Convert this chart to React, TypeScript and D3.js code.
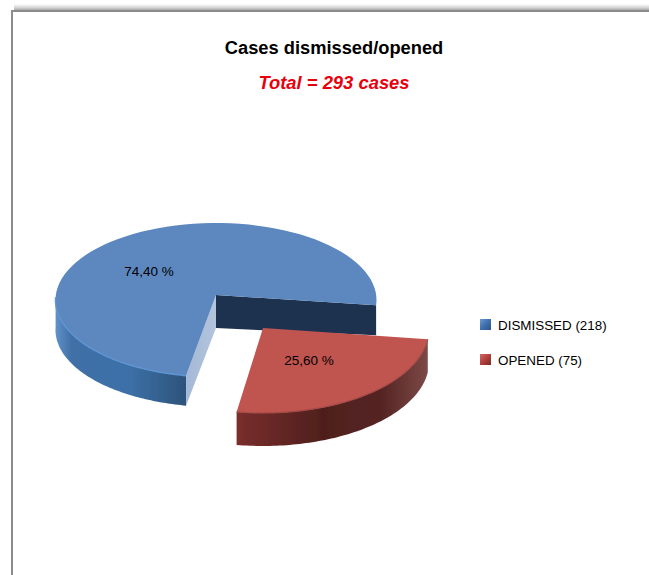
import React from "react";
import * as d3 from "d3";

const categories = ["DISMISSED", "OPENED"];
const values = [218, 75];
const total = 293;

const W = 649;
const H = 575;
const FONT = "'Liberation Sans', Arial, sans-serif";
const rad = Math.PI / 180;
const START = 97 * rad; // clockwise from 12 o'clock, opened slice begins here

// each wedge has its own ellipse (perspective view, opened slice is exploded)
const geo = [
  { ax: 216, ay: 295, rx: 160.5, ry: 77, off: 5, depth: 30, adjS: 1.6, adjE: -3 },
  { ax: 263, ay: 328, rx: 166, ry: 84, off: 1, depth: 33, adjS: 0, adjE: 0 },
];

type G = (typeof geo)[number];
const pt = (g: G, t: number): [number, number] => [
  g.ax + g.rx * Math.sin(t),
  g.ay + g.off - g.ry * Math.cos(t),
];
const rim = (g: G, a: number, b: number) =>
  d3.range(0, 81).map((i) => pt(g, a + ((b - a) * i) / 80));
const line = d3.line();
const shift = (p: [number, number][], d: number) =>
  p.map(([x, y]) => [x, y + d] as [number, number]);

export default function App() {
  const pie = d3
    .pie<number>()
    .sort(null)
    .startAngle(START)
    .endAngle(START + 2 * Math.PI);
  // the opened slice starts at START, dismissed follows it
  const arcs = pie([values[1], values[0]]);
  const redA = arcs[0];
  const blueA = arcs[1];
  const B = geo[0];
  const R = geo[1];
  const bS = blueA.startAngle + B.adjS * rad;
  const bE = blueA.endAngle + B.adjE * rad;

  const blueRim = rim(B, bS, bE);
  const blueTop = line([[B.ax, B.ay], ...blueRim])! + "Z";
  const blueFront = rim(B, bS, 272 * rad);
  const blueWall =
    line([...blueFront, ...shift(blueFront, B.depth).reverse()])! + "Z";
  const bStartPt = pt(B, bS);
  const bEndPt = pt(B, bE);
  const apexB: [number, number] = [B.ax, B.ay];
  const leftCut =
    line([apexB, bStartPt, [bStartPt[0], bStartPt[1] + B.depth], [B.ax, B.ay + 33]])! + "Z";
  const rightCut =
    line([apexB, bEndPt, [bEndPt[0], bEndPt[1] + B.depth], [B.ax, B.ay + 33]])! + "Z";

  const redRim = rim(R, redA.startAngle, redA.endAngle);
  const redTop = line([[R.ax, R.ay], ...redRim])! + "Z";
  const redWall = line([...redRim, ...shift(redRim, R.depth).reverse()])! + "Z";

  const pct = (v: number) =>
    ((v / total) * 100).toFixed(2).replace(".", ",") + " %";

  return (
    <svg
      width={W}
      height={H}
      viewBox={`0 0 ${W} ${H}`}
      style={{ position: "absolute", left: 0, top: 0, background: "#fff" }}
    >
      <defs>
        <linearGradient id="shadowTop" x1="0" x2="0" y1="0" y2="1">
          <stop offset="0" stopColor="#ffffff" />
          <stop offset="0.5" stopColor="#cfcfcf" />
          <stop offset="1" stopColor="#7f7f7f" />
        </linearGradient>
        <linearGradient id="blueWall" gradientUnits="userSpaceOnUse" x1="56" x2="188" y1="0" y2="0">
          <stop offset="0" stopColor="#6090c8" />
          <stop offset="0.12" stopColor="#3f6fa6" />
          <stop offset="0.55" stopColor="#3d70a8" />
          <stop offset="0.8" stopColor="#33608e" />
          <stop offset="1" stopColor="#2d5179" />
        </linearGradient>
        <linearGradient id="redWall" gradientUnits="userSpaceOnUse" x1="236" x2="429" y1="0" y2="0">
          <stop offset="0" stopColor="#7a2e2c" />
          <stop offset="0.45" stopColor="#4f1f1d" />
          <stop offset="0.75" stopColor="#552423" />
          <stop offset="1" stopColor="#7d4a48" />
        </linearGradient>
        <linearGradient id="sideLight" gradientUnits="userSpaceOnUse" x1="186" x2="216" y1="0" y2="0">
          <stop offset="0" stopColor="#a4b9d6" />
          <stop offset="1" stopColor="#b3c4dc" />
        </linearGradient>
        <linearGradient id="swB" x1="0" x2="1" y1="0" y2="1">
          <stop offset="0" stopColor="#6f9ad0" />
          <stop offset="0.5" stopColor="#3d70ad" />
          <stop offset="1" stopColor="#2c5485" />
        </linearGradient>
        <linearGradient id="swR" x1="0" x2="1" y1="0" y2="1">
          <stop offset="0" stopColor="#d06a66" />
          <stop offset="0.5" stopColor="#b13f3c" />
          <stop offset="1" stopColor="#7a2a28" />
        </linearGradient>
        <filter id="soft" x="-5%" y="-5%" width="110%" height="110%">
          <feGaussianBlur stdDeviation="0.6" />
        </filter>
      </defs>

      <rect x={14} y={4} width={W - 14} height={8} fill="url(#shadowTop)" />
      <rect x={11} y={10} width={2} height={H - 10} fill="#8c8c8c" />
      <rect x={11} y={10} width={W - 11} height={2} fill="#8c8c8c" />

      <g filter="url(#soft)">
        <path d={rightCut} fill="#1f3350" />
        <path d={blueWall} fill="url(#blueWall)" />
        <path d={leftCut} fill="url(#sideLight)" />
        <path d={blueTop} fill="#5b87bf" />
        <path d={line(blueFront)!} fill="none" stroke="#5f95d2" strokeWidth={1.5} />
        <path d={redWall} fill="url(#redWall)" />
        <path d={redTop} fill="#c05450" />
        <path d={line(redRim)!} fill="none" stroke="#a34a46" strokeWidth={1.2} />
      </g>

      <g fontFamily={FONT} textAnchor="middle" fill="#000">
        <text x={334} y={54} fontSize={18.3} fontWeight="bold">
          Cases dismissed/opened
        </text>
        <text x={334} y={89} fontSize={18.4} fontWeight="bold" fontStyle="italic" fill="#e8000d">
          {`Total = ${total} cases`}
        </text>
        <text x={149} y={276} fontSize={13.5}>
          {pct(values[0])}
        </text>
        <text x={309} y={365} fontSize={13.5}>
          {pct(values[1])}
        </text>
      </g>

      {categories.map((c, i) => (
        <g key={c}>
          <rect x={480} y={319 + i * 35} width={11} height={11} fill={i === 0 ? "url(#swB)" : "url(#swR)"} />
          <text x={498} y={330 + i * 35} fontFamily={FONT} fontSize={13.4} fill="#000">
            {`${c} (${values[i]})`}
          </text>
        </g>
      ))}
    </svg>
  );
}
